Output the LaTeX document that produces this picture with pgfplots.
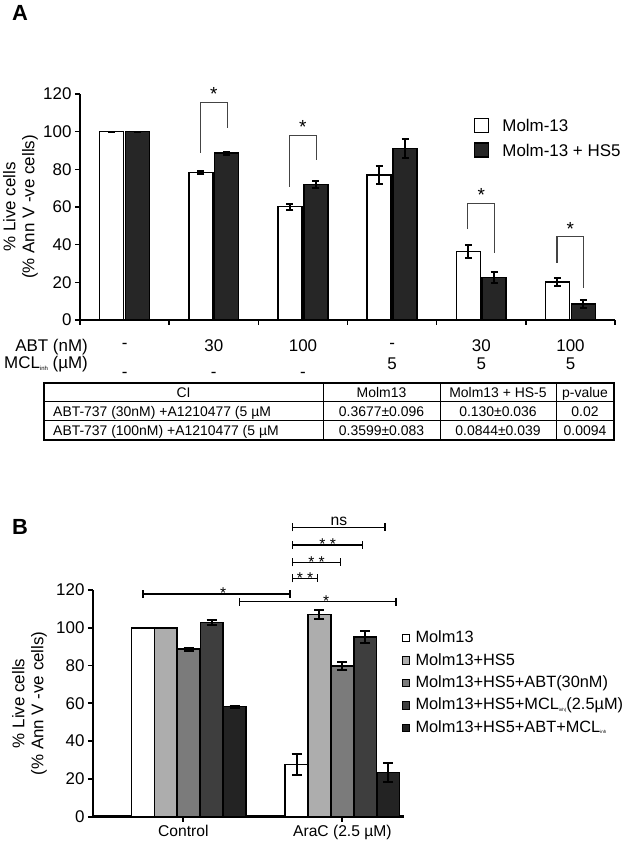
\documentclass[border=0pt]{standalone}
\usepackage{pgfplots}
\pgfplotsset{compat=1.18}
\usetikzlibrary{arrows.meta}
\usepackage{fontspec}
\setmainfont{Liberation Sans}
\definecolor{darkA}{HTML}{262626}
\definecolor{gBb}{HTML}{ADADAD}
\definecolor{gBc}{HTML}{7B7B7B}
\definecolor{gBd}{HTML}{3E3E3E}
\definecolor{gBe}{HTML}{232323}
\definecolor{brk}{HTML}{444444}
\newcommand{\fA}{\fontsize{17}{19}\selectfont}
\newcommand{\fT}{\fontsize{14}{16}\selectfont}
\newcommand{\fB}{\fontsize{16.4}{19}\selectfont}
\newcommand{\fX}{\fontsize{15.7}{18}\selectfont}
\newcommand{\sub}[2][6]{\raisebox{-1.5bp}{\fontsize{#1}{#1}\selectfont #2}}
\begin{document}
\begin{tikzpicture}
\useasboundingbox (0bp,0bp) rectangle (625bp,846bp);
% ================= Panel A =================
\begin{axis}[
  at={(80bp,526bp)}, anchor=south west,
  scale only axis, width=535bp, height=226bp,
  xmin=-0.5, xmax=5.5, ymin=0, ymax=120,
  axis x line=bottom, axis y line=left,
  axis line style={-, line width=2bp},
  xtick={-0.5,0.5,1.5,2.5,3.5,4.5,5.5}, xticklabels={},
  ytick={0,20,...,120},
  tick style={line width=1.5bp, black},
  major tick length=5bp, tick align=outside,
  tick label style={font=\fA},
  /pgf/number format/assume math mode=true,
  ylabel={\% Live cells\\(\% Ann V -ve cells)},
  ylabel style={align=center, font=\fA, inner sep=0pt, at={(axis description cs:-0.0785,0.5)}, anchor=south},
  ybar, bar width=0.27,
  clip=false,
  legend cell align=left,
  legend style={at={(axis description cs:0.7364,0.8949)}, anchor=north west,
    draw=none, fill=none, inner sep=0pt, outer sep=0pt, row sep=9bp, column sep=0pt,
    font=\fA, nodes={inner sep=0pt, text height=12.5bp, text depth=0bp}},
  legend image code/.code={\draw[#1, line width=1.5bp] (0bp,-7bp) rectangle (14bp,7bp); \path[draw=none, fill=none] (0bp,0bp) -- (27.7bp,0bp);},
]
\addplot[draw=black, line width=1.5bp, fill=white, bar shift=-0.145,
  error bars/.cd, y dir=both, y explicit,
  error bar style={line width=2bp, black},
  error mark options={rotate=90, line width=2bp, mark size=3.5bp, black}]
  coordinates {(0,100) +- (0,0) (1,78.3) +- (0,0.8) (2,60.2) +- (0,1.6)
               (3,77) +- (0,5) (4,36.3) +- (0,3.4) (5,20.3) +- (0,2)};
\addlegendentry{Molm-13}
\addplot[draw=black, line width=1.5bp, fill=darkA, bar shift=0.145,
  error bars/.cd, y dir=both, y explicit,
  error bar style={line width=2bp, black},
  error mark options={rotate=90, line width=2bp, mark size=3.5bp, black}]
  coordinates {(0,100) +- (0,0) (1,88.6) +- (0,0.8) (2,72) +- (0,2)
               (3,91) +- (0,5) (4,22.6) +- (0,2.7) (5,8.4) +- (0,2)};
\addlegendentry{Molm-13 + HS5}
% significance brackets
\draw[brk, line width=1.2bp] (axis cs:0.85,88.7) -- (axis cs:0.85,115.6) -- (axis cs:1.15,115.6) -- (axis cs:1.15,102);
\draw[brk, line width=1.2bp] (axis cs:1.85,70.8) -- (axis cs:1.85,98) -- (axis cs:2.15,98) -- (axis cs:2.15,85);
\draw[brk, line width=1.2bp] (axis cs:3.85,48.3) -- (axis cs:3.85,62) -- (axis cs:4.15,62) -- (axis cs:4.15,35.6);
\draw[brk, line width=1.2bp] (axis cs:4.85,30.4) -- (axis cs:4.85,44.2) -- (axis cs:5.15,44.2) -- (axis cs:5.15,16.8);
\node[anchor=base, font=\fontsize{19}{20}\selectfont, inner sep=0pt] at (axis cs:1,116.4) {*};
\node[anchor=base, font=\fontsize{19}{20}\selectfont, inner sep=0pt] at (axis cs:2,98.8) {*};
\node[anchor=base, font=\fontsize{19}{20}\selectfont, inner sep=0pt] at (axis cs:4,62.8) {*};
\node[anchor=base, font=\fontsize{19}{20}\selectfont, inner sep=0pt] at (axis cs:5,45) {*};
\end{axis}
% treatment rows
\begin{scope}[x=1bp, y=1bp, every node/.style={inner sep=0pt, font=\fA}]
\node[anchor=base east] at (88,{846-352}) {ABT (nM)};
\node[anchor=base east] at (88,{846-369}) {MCL\sub{inh} (µM)};
\node[anchor=base] at (124.6,{846-349}) {-};
\node[anchor=base] at (213.8,{846-352}) {30};
\node[anchor=base] at (303.0,{846-352}) {100};
\node[anchor=base] at (392.1,{846-349}) {-};
\node[anchor=base] at (481.3,{846-352}) {30};
\node[anchor=base] at (570.5,{846-352}) {100};
\node[anchor=base] at (124.6,{846-378}) {-};
\node[anchor=base] at (213.8,{846-378}) {-};
\node[anchor=base] at (303.0,{846-378}) {-};
\node[anchor=base] at (392.1,{846-369.5}) {5};
\node[anchor=base] at (481.3,{846-369.5}) {5};
\node[anchor=base] at (570.5,{846-369.5}) {5};
% table
\draw[line width=1bp] (44,{846-402}) -- (614,{846-402});
\draw[line width=1bp] (44,{846-421}) -- (614,{846-421});
\draw[line width=1bp] (323,{846-383}) -- (323,{846-440});
\draw[line width=1bp] (440,{846-383}) -- (440,{846-440});
\draw[line width=1bp] (556,{846-383}) -- (556,{846-440});
\draw[line width=1.6bp] (44,{846-383}) rectangle (614,{846-440});
\begin{scope}[every node/.style={inner sep=0pt, font=\fT}]
\node[anchor=base] at (183.5,{846-397.5}) {CI};
\node[anchor=base] at (381.5,{846-397.5}) {Molm13};
\node[anchor=base] at (498,{846-397.5}) {Molm13 + HS-5};
\node[anchor=base] at (585,{846-397.5}) {p-value};
\node[anchor=base west] at (53,{846-416.5}) {ABT-737 (30nM) +A1210477 (5 µM};
\node[anchor=base] at (381.5,{846-416.5}) {0.3677±0.096};
\node[anchor=base] at (498,{846-416.5}) {0.130±0.036};
\node[anchor=base] at (585,{846-416.5}) {0.02};
\node[anchor=base west] at (53,{846-435.5}) {ABT-737 (100nM) +A1210477 (5 µM};
\node[anchor=base] at (381.5,{846-435.5}) {0.3599±0.083};
\node[anchor=base] at (498,{846-435.5}) {0.0844±0.039};
\node[anchor=base] at (585,{846-435.5}) {0.0094};
\end{scope}
\node[font=\bfseries\fontsize{22}{24}\selectfont] at (20,{846-13}) {A};
\node[font=\bfseries\fontsize{22}{24}\selectfont] at (20,{846-527}) {B};
\end{scope}
% ================= Panel B =================
\begin{axis}[
  at={(93bp,29.3bp)}, anchor=south west,
  scale only axis, width=311bp, height=226.7bp,
  xmin=-0.623, xmax=1.401, ymin=0, ymax=120,
  axis x line=bottom, axis y line=left,
  axis line style={-, line width=2.5bp},
  xtick={-0.035,1}, xticklabels={Control, AraC (2.5 µM)},
  ytick={0,20,...,120},
  tick style={line width=1.8bp, black},
  major tick length=5bp, tick align=outside,
  x tick label style={font=\fX},
  y tick label style={font=\fA},
  /pgf/number format/assume math mode=true,
  ylabel={\% Live cells\\(\% Ann V -ve cells)},
  ylabel style={align=center, font=\fA, inner sep=0pt, at={(axis description cs:-0.148,0.5)}, anchor=south},
  ybar, bar width=0.148,
  clip=false,
  legend cell align=left,
  legend style={at={(axis description cs:0.992,0.8205)}, anchor=north west,
    draw=none, fill=none, inner sep=0pt, outer sep=0pt, row sep=6.9bp, column sep=0pt,
    font=\fB, nodes={inner sep=0pt, text height=12bp, text depth=3.5bp}},
  legend image code/.code={\draw[#1, line width=1bp] (0bp,-3.5bp) rectangle (7.5bp,4bp); \path[draw=none, fill=none] (0bp,0bp) -- (13.5bp,0bp);},
]
\addplot[draw=black, line width=1.5bp, fill=white, bar shift=-0.298,
  error bars/.cd, y dir=both, y explicit,
  error bar style={line width=2bp, black},
  error mark options={rotate=90, line width=2bp, mark size=5bp, black}]
  coordinates {(0,100) +- (0,0) (1,27.7) +- (0,5.4)};
\addlegendentry{Molm13}
\addplot[draw=black, line width=1.5bp, fill=gBb, bar shift=-0.149,
  error bars/.cd, y dir=both, y explicit,
  error bar style={line width=2bp, black},
  error mark options={rotate=90, line width=2bp, mark size=5bp, black}]
  coordinates {(0,100) +- (0,0) (1,107) +- (0,2.4)};
\addlegendentry{Molm13+HS5}
\addplot[draw=black, line width=1.5bp, fill=gBc, bar shift=0,
  error bars/.cd, y dir=both, y explicit,
  error bar style={line width=2bp, black},
  error mark options={rotate=90, line width=2bp, mark size=5bp, black}]
  coordinates {(0,88.7) +- (0,0.8) (1,79.7) +- (0,2.3)};
\addlegendentry{Molm13+HS5+ABT(30nM)}
\addplot[draw=black, line width=1.5bp, fill=gBd, bar shift=0.149,
  error bars/.cd, y dir=both, y explicit,
  error bar style={line width=2bp, black},
  error mark options={rotate=90, line width=2bp, mark size=5bp, black}]
  coordinates {(0,102.8) +- (0,1.4) (1,95) +- (0,3.3)};
\addlegendentry{Molm13+HS5+MCL\sub[4.5]{inh(}(2.5µM)}
\addplot[draw=black, line width=1.5bp, fill=gBe, bar shift=0.298,
  error bars/.cd, y dir=both, y explicit,
  error bar style={line width=2bp, black},
  error mark options={rotate=90, line width=2bp, mark size=5bp, black}]
  coordinates {(0,58.2) +- (0,0.6) (1,23.5) +- (0,5)};
\addlegendentry{Molm13+HS5+ABT+MCL\sub[4.5]{inh}}
% significance lines
\draw[{Bar[width=8bp]}-{Bar[width=8bp]}, line width=1.5bp] (axis cs:0.671,153.1) -- (axis cs:1.283,153.1);
\draw[{Bar[width=8bp]}-{Bar[width=8bp]}, line width=1.5bp] (axis cs:0.671,143.8) -- (axis cs:1.137,143.8);
\draw[{Bar[width=8bp]}-{Bar[width=8bp]}, line width=1.5bp] (axis cs:0.671,134.6) -- (axis cs:0.993,134.6);
\draw[{Bar[width=8bp]}-{Bar[width=8bp]}, line width=1.5bp] (axis cs:0.671,126.1) -- (axis cs:0.842,126.1);
\draw[{Bar[width=8bp]}-{Bar[width=8bp]}, line width=1.5bp] (axis cs:-0.302,117.8) -- (axis cs:0.664,117.8);
\draw[{Bar[width=8bp]}-{Bar[width=8bp]}, line width=1.5bp] (axis cs:0.327,113.8) -- (axis cs:1.354,113.8);
\node[anchor=base, font=\fX, inner sep=0pt, yshift=1.5bp] at (axis cs:0.977,153.1) {ns};
\node[anchor=base, font=\fX, inner sep=0pt, yshift=-4.8bp] at (axis cs:0.904,143.8) {* *};
\node[anchor=base, font=\fX, inner sep=0pt, yshift=-4.8bp] at (axis cs:0.832,134.6) {* *};
\node[anchor=base, font=\fX, inner sep=0pt, yshift=-4.8bp] at (axis cs:0.757,126.1) {* *};
\node[anchor=base, font=\fX, inner sep=0pt, yshift=-4.8bp] at (axis cs:0.224,117.8) {*};
\node[anchor=base, font=\fX, inner sep=0pt, yshift=-4.8bp] at (axis cs:0.894,113.8) {*};
\end{axis}
\end{tikzpicture}
\end{document}
